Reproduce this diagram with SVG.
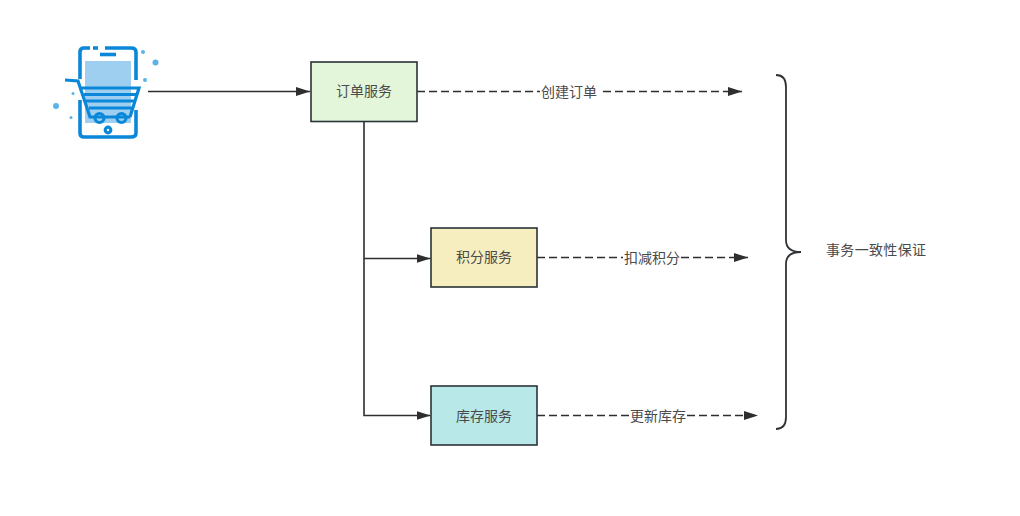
<svg xmlns="http://www.w3.org/2000/svg" width="1020" height="516" viewBox="0 0 1020 516">
<style>
text{font-family:"Noto Sans CJK SC","Liberation Sans",sans-serif;font-size:14px;fill:#4a4a4a;text-anchor:middle}
.box{stroke:#2b3338;stroke-width:1.6}
.c{fill:none;stroke:#2e2e2e;stroke-width:1.6}
.d{stroke-dasharray:8 4}
.b{fill:none;stroke:#2e3438;stroke-width:1.8}
.ic{fill:none;stroke:#0a87d9;stroke-width:3.6}
.ict{fill:none;stroke:#0a87d9;stroke-width:3.2}
.dot{fill:#5cb3e8}
</style>
<defs><marker id="a" markerUnits="userSpaceOnUse" markerWidth="15" markerHeight="10" refX="14" refY="5" orient="auto"><path d="M0 .5L14 5L0 9.500Z" fill="#2e2e2e"/></marker></defs>
<rect width="1020" height="516" fill="#fff"/>
<g id="connectors">
<path class="c" d="M148 91.500H310" marker-end="url(#a)"/>
<path class="c d" d="M417 91.500H540M603 91.500H742" marker-end="url(#a)"/>
<path class="c" d="M364 122V415.500H430.500" marker-end="url(#a)"/>
<path class="c" d="M364 258.500H430.500" marker-end="url(#a)"/>
<path class="c d" d="M537 257.500H623M681 257.500H748" marker-end="url(#a)"/>
<path class="c d" d="M537 415.500H629M687 415.500H758" marker-end="url(#a)"/>
</g>
<g id="icon">
<rect x="85" y="61" width="46" height="62" fill="#9fcff0"/>
<path class="ic" d="M90 48H84Q80 48 80 52V79M93 48H98M105 48H131Q136 48 136 52V80M136 110V133Q136 137 131 137H84Q80 137 80 133V100"/>
<path class="ic" d="M100 54.500H116"/>
<path class="ict" d="M65 80L78 81L90 117H130M81 88H139L130 117M84 94.500H136M86 101H134M89 108H132"/>
<circle class="ict" cx="99.500" cy="118" r="4.500" fill="#9fcff0"/>
<circle class="ict" cx="121.500" cy="118" r="4.500" fill="#9fcff0"/>
<circle class="ict" cx="108" cy="130" r="2.800"/>
<circle class="dot" cx="143" cy="52" r="2"/><circle class="dot" cx="155.500" cy="62.500" r="3"/><circle class="dot" cx="145" cy="80" r="2"/><circle class="dot" cx="73" cy="93.500" r="1.500"/><circle class="dot" cx="56" cy="106" r="3"/><circle class="dot" cx="71" cy="117.500" r="1.500"/>
</g>
<g id="order"><rect class="box" x="311" y="62" width="106" height="59.500" fill="#e3f6da"/><text x="364" y="96">订单服务</text></g>
<g id="points"><rect class="box" x="431" y="228" width="106" height="59" fill="#f6eebf"/><text x="484" y="262">积分服务</text></g>
<g id="stock"><rect class="box" x="431" y="386" width="106" height="59" fill="#b8e8e8"/><text x="484" y="420.500">库存服务</text></g>
<g id="labels">
<text x="569" y="97">创建订单</text>
<text x="652" y="263">扣减积分</text>
<text x="658" y="421">更新库存</text>
</g>
<g id="brace"><path class="b" d="M776 75Q786 75 786 87V240Q786 252 801 252Q786 252 786 264V417Q786 429 776 429"/><text x="876" y="254.500" textLength="100">事务一致性保证</text></g>
</svg>
